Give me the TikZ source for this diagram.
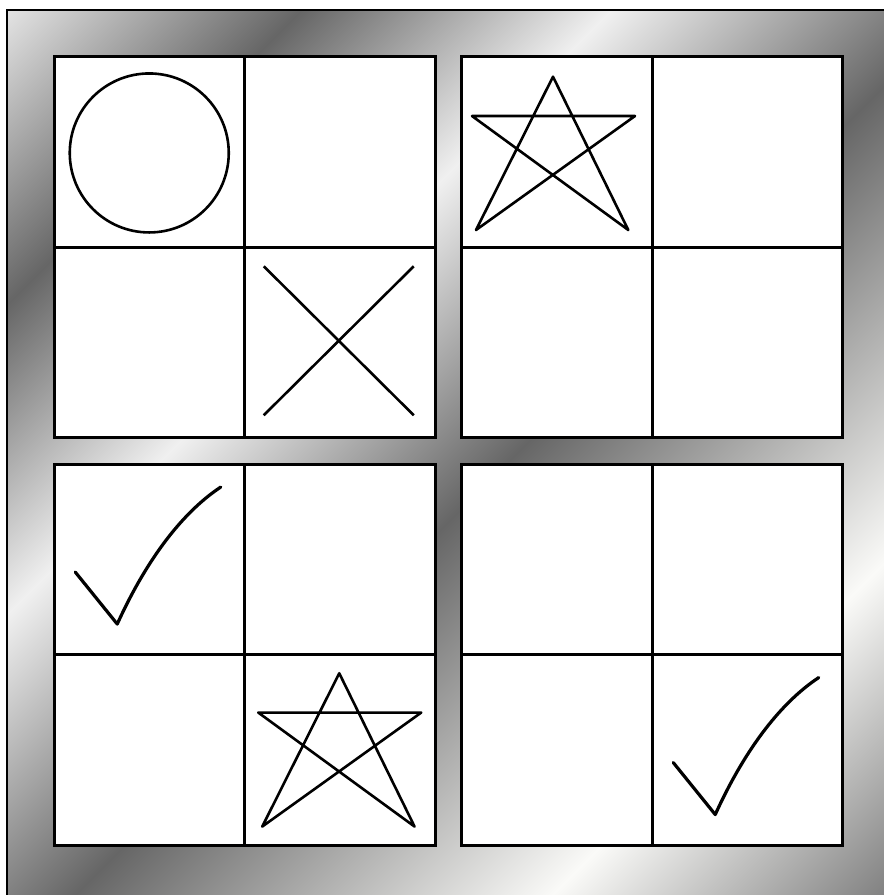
\documentclass[tikz,border=0pt]{standalone}
\usetikzlibrary{calc}
\definecolor{metaledge}{HTML}{E2E2E2}
\definecolor{metaldark}{HTML}{666666}
\definecolor{metalshine}{HTML}{F0F0F0}
\definecolor{metalwhite}{HTML}{FAFAF8}
\definecolor{metalend}{HTML}{7C7C7C}
\pgfdeclarehorizontalshading{metal}{100bp}{%
  color(0bp)=(metaledge); color(14.6bp)=(metaledge);
  color(26.2bp)=(metaldark); color(38.6bp)=(metalshine);
  color(52.5bp)=(metaldark); color(71.6bp)=(metalwhite);
  color(85.4bp)=(metalend); color(100bp)=(metalend)}

\begin{document}
\begin{tikzpicture}[
    x=1pt, y=-1pt,
    cell/.style={draw=black, fill=white, line width=3pt,
                 minimum size=190.5pt, inner sep=0pt, outer sep=0pt},
    symline/.style={draw=black, line width=2.6pt, line join=round},
    checkline/.style={draw=black, line width=3.2pt, line cap=round,
                      line join=round},
  ]
  \useasboundingbox (0,0) rectangle (884,895);
  \fill[white] (0,0) rectangle (884,895);

  % Metal frame.
  \shade[shading=metal, shading angle=-45] (7,10) rectangle (897,900);
  \draw[line width=2.5pt] (7,10) rectangle (897,900);

  % Four 2x2 boards.
  \foreach \g/\gx/\gy in {a/54/56.5, b/461.5/56.5, c/54/464.3, d/461.5/464.3}
    \foreach \r in {1,2}
      \foreach \c in {1,2}
        \node[cell] (\g\r\c) at ({\gx+(\c-0.5)*190.5},{\gy+(\r-0.5)*190.5}) {};

  % Circle and cross.
  \draw[symline] ($(a11)+(0,1.2)$) circle[radius=79.5pt];
  \draw[symline] ($(a22)+(-76,-76)$) -- ($(a22)+(74,73)$);
  \draw[symline] ($(a22)+(74,-76)$) -- ($(a22)+(-76,73)$);

  % Stars.
  \foreach \s/\dx/\dy in {b11/-3.75/1.25, c22/-0.5/-0.5} {
    \begin{scope}[shift={($(\s)+(\dx,\dy)$)}]
      \draw[symline] (0,-76.3) -- (75.3,77) -- (-81,-37) -- (82,-37)
        -- (-77,77) -- cycle;
    \end{scope}
  }

  % Ticks.
  \foreach \s in {c11, d22} {
    \begin{scope}[shift={(\s)}]
      \draw[checkline] (-74,12.5) -- (-32,64.5)
        .. controls (-5,5) and (30,-45) .. (71.5,-72.5);
    \end{scope}
  }
\end{tikzpicture}
\end{document}
